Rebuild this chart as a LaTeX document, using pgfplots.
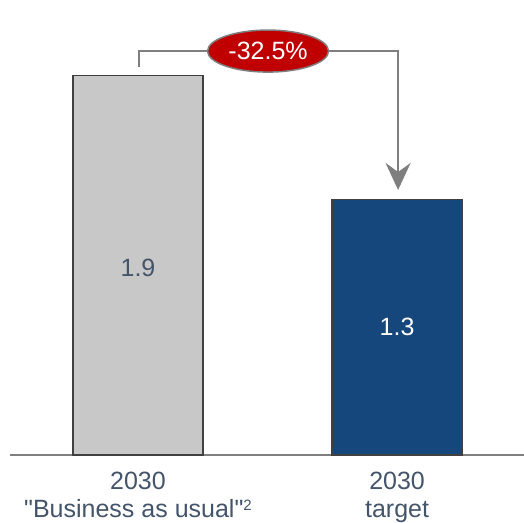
\documentclass[border=0pt]{standalone}
\usepackage{pgfplots}
\pgfplotsset{compat=1.18}
\usepackage{fontspec}
\setmainfont{Liberation Sans}
\newfontfamily\plainsans{Liberation Sans}
\usetikzlibrary{arrows.meta,shapes.geometric}
\definecolor{barblue}{HTML}{16477C}
\definecolor{bargray}{HTML}{C8C8C8}
\definecolor{labcol}{HTML}{44546A}
\definecolor{arrowgray}{HTML}{7F7F7F}
\definecolor{badgered}{HTML}{C00000}
\begin{document}
\begin{tikzpicture}
\begin{axis}[
  at={(10pt,67pt)}, anchor=south west,
  scale only axis, width=514pt, height=455pt,
  xmin=-0.494, xmax=1.490, ymin=0, ymax=2.28,
  axis x line*=bottom, axis y line=none,
  x axis line style={-, draw=arrowgray, line width=1.3pt},
  xtick={0,1}, major tick length=0pt,
  xticklabels={{2030\\"Business as usual"\raisebox{7pt}{\fontsize{15}{15}\selectfont 2}},{2030\\target}},
  xticklabel style={font=\plainsans\fontsize{25}{28}\selectfont, text=labcol, align=center, yshift=-14pt},
  ytick=\empty,
  clip=false,
]
\addplot[ybar, bar shift=0pt, bar width=130pt, fill=bargray, draw=black!75, line width=1.2pt] coordinates {(0,1.9)};
\addplot[ybar, bar shift=0pt, bar width=130pt, fill=barblue, draw=black!75, line width=1.2pt] coordinates {(1,1.28)};
\node[font=\plainsans\fontsize{25}{29}\selectfont, text=labcol] at (axis cs:0,0.937) {1.9};
\node[font=\plainsans\fontsize{25}{29}\selectfont, text=white] at (axis cs:1,0.641) {1.3};
\draw[arrowgray, line width=2.4pt, -{Stealth[length=27pt, width=25pt, inset=9pt]}]
  (axis cs:0.004,1.944) -- (axis cs:0.004,2.024) -- (axis cs:1.004,2.024) -- (axis cs:1.004,1.328);
\node[ellipse, fill=badgered, draw=arrowgray, line width=1.5pt, minimum width=121pt, minimum height=42pt, inner sep=0pt,
  text=white, font=\plainsans\fontsize{25}{29}\selectfont] at (axis cs:0.502,2.024) {-32.5\%};
\end{axis}
\pgfresetboundingbox
\useasboundingbox (0,0) rectangle (524pt,522pt);
\end{tikzpicture}
\end{document}
